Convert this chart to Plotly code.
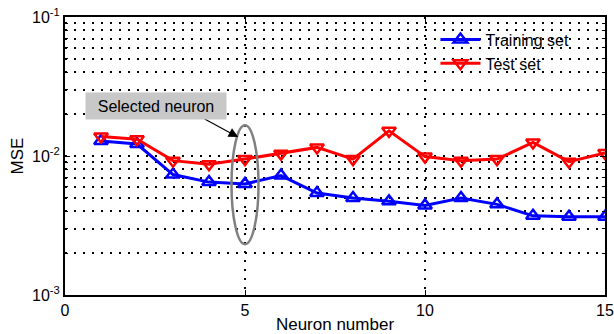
import plotly.graph_objects as go

neurons = list(range(1, 16))
training_mse = [0.0128, 0.0122, 0.00735, 0.00649, 0.0063, 0.00723, 0.00541, 0.00499,
                0.00472, 0.00441, 0.00499, 0.00449, 0.00371, 0.00365, 0.00365]
test_mse = [0.0138, 0.0132, 0.00926, 0.00872, 0.0095, 0.0104, 0.01153, 0.0095,
            0.01517, 0.0099, 0.00926, 0.0095, 0.01253, 0.0091, 0.0105]
x_ticks = [0, 5, 10, 15]
y_tickvals = [1e-3, 1e-2, 1e-1]
y_ticktext = ["10<sup>-3</sup>", "10<sup>-2</sup>", "10<sup>-1</sup>"]
selected_neuron = 5

FONT = "Liberation Sans, Arial, sans-serif"
DOTS = "2px,7px"

fig = go.Figure()
fig.add_trace(go.Scatter(
    x=neurons, y=training_mse, name="Training set", mode="lines+markers",
    line=dict(color="#0000ff", width=3),
    marker=dict(symbol="triangle-up-open", size=12, color="#0000ff", line=dict(width=2.5, color="#0000ff")),
))
fig.add_trace(go.Scatter(
    x=neurons, y=test_mse, name="Test set", mode="lines+markers",
    line=dict(color="#ff0000", width=3),
    marker=dict(symbol="triangle-down-open", size=12, color="#ff0000", line=dict(width=2.5, color="#ff0000")),
))

# ellipse around selected neuron
fig.add_shape(type="circle", xref="x", yref="y domain",
              x0=selected_neuron - 0.375, x1=selected_neuron + 0.375,
              y0=0.183, y1=0.611,
              line=dict(color="#808080", width=2.5))

fig.add_annotation(
    x=selected_neuron - 0.19, y=0.568, xref="x", yref="y domain",
    ax=-35, ay=-19,
    text="", showarrow=True, arrowhead=2, arrowsize=1.6, arrowwidth=1.2, arrowcolor="black",
)
fig.add_annotation(
    x=0.556, y=0.68, xref="x", yref="y domain", xanchor="left", yanchor="middle",
    text="Selected neuron", showarrow=False,
    font=dict(family=FONT, size=16, color="black"),
    bgcolor="#c8c8c8", borderpad=4, width=132, height=18,
)

fig.update_layout(
    width=614, height=334,
    margin=dict(l=65, r=9, t=17, b=39),
    paper_bgcolor="white", plot_bgcolor="white",
    font=dict(family=FONT, size=16, color="black"),
    showlegend=True,
    legend=dict(x=0.686, y=0.98, xanchor="left", yanchor="top", bgcolor="rgba(0,0,0,0)",
                font=dict(size=16), itemwidth=40, tracegroupgap=0),
    xaxis=dict(range=[0, 15], tickvals=x_ticks, ticks="inside", ticklen=5, tickcolor="black",
               showline=True, linecolor="black", linewidth=2, mirror="ticks",
               zeroline=False, showgrid=True, gridcolor="black", griddash=DOTS, gridwidth=1.5,
               automargin=False,
               title=dict(text="Neuron number", standoff=0, font=dict(size=17)),
               tickfont=dict(size=16)),
    yaxis=dict(type="log", range=[-3, -1], tickvals=y_tickvals, ticktext=y_ticktext,
               ticks="inside", ticklen=5, tickcolor="black", showline=True, linecolor="black",
               linewidth=2, mirror="ticks", zeroline=False, automargin=False,
               showgrid=True, gridcolor="black", griddash=DOTS, gridwidth=1.5,
               minor=dict(dtick="D1", showgrid=True, gridcolor="black", griddash=DOTS, gridwidth=1.5,
                          ticks="inside", ticklen=3, tickcolor="black"),
               title=dict(text="MSE", standoff=4, font=dict(size=17)),
               tickfont=dict(size=16)),
)

fig.write_html("out.html", config={"displayModeBar": False},
               post_script="document.body.style.margin='0';document.body.style.overflow='hidden';")
